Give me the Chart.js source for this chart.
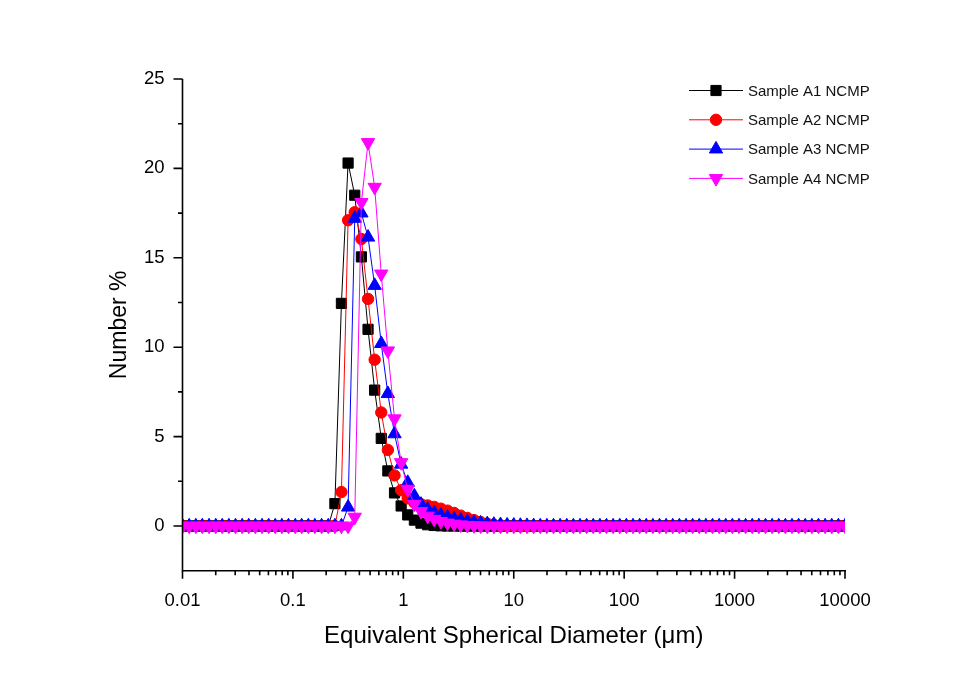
<!DOCTYPE html>
<html><head><meta charset="utf-8">
<script src="https://cdn.jsdelivr.net/npm/chart.js"></script>
<style>html,body{margin:0;padding:0;background:#fff}#wrap{width:973px;height:680px}</style>
</head><body><div id="wrap"><canvas id="c" width="973" height="680"></canvas></div>
<script>
// Equivalent spherical diameter bins (µm)
const sizes = [
0.0100,0.0115,0.0132,0.0151,0.0174,0.0200,0.0229,0.0263,0.0302,0.0347,
0.0398,0.0457,0.0525,0.0603,0.0692,0.0794,0.0912,0.105,0.120,0.138,
0.158,0.182,0.209,0.240,0.275,0.316,0.363,0.417,0.479,0.550,
0.631,0.724,0.832,0.955,1.096,1.259,1.445,1.660,1.905,2.188,
2.512,2.884,3.311,3.802,4.365,5.012,5.754,6.607,7.586,8.710,
10.00,11.48,13.18,15.14,17.38,19.95,22.91,26.30,30.20,34.67,
39.81,45.71,52.48,60.26,69.18,79.43,91.20,104.7,120.2,138.0,
158.5,182.0,208.9,239.9,275.4,316.2,363.1,416.9,478.6,549.5,
631.0,724.4,831.8,955.0,1096,1259,1445,1660,1905,2188,
2512,2884,3311,3802,4365,5012,5754,6607,7586,8710,
10000];

const seriesNames = ['Sample A1 NCMP','Sample A2 NCMP','Sample A3 NCMP','Sample A4 NCMP'];

const sampleA1 = [
0,0,0,0,0,0,0,0,0,0,
0,0,0,0,0,0,0,0,0,0,
0,0,0,1.25,12.45,20.3,18.5,15.05,11.0,7.6,
4.9,3.08,1.85,1.12,0.62,0.33,0.16,0.07,0.03,0.01,
0,0,0,0,0,0,0,0,0,0,
0,0,0,0,0,0,0,0,0,0,
0,0,0,0,0,0,0,0,0,0,
0,0,0,0,0,0,0,0,0,0,
0,0,0,0,0,0,0,0,0,0,
0,0,0,0,0,0,0,0,0,0,
0];
const sampleA2 = [
0,0,0,0,0,0,0,0,0,0,
0,0,0,0,0,0,0,0,0,0,
0,0,0,0,1.9,17.1,17.55,16.05,12.7,9.3,
6.35,4.25,2.83,2.0,1.55,1.3,1.22,1.15,1.07,0.97,
0.86,0.73,0.58,0.45,0.33,0.22,0.13,0.07,0.03,0.01,
0,0,0,0,0,0,0,0,0,0,
0,0,0,0,0,0,0,0,0,0,
0,0,0,0,0,0,0,0,0,0,
0,0,0,0,0,0,0,0,0,0,
0,0,0,0,0,0,0,0,0,0,
0];
const sampleA3 = [
0,0,0,0,0,0,0,0,0,0,
0,0,0,0,0,0,0,0,0,0,
0,0,0,0,0,1.05,17.2,17.5,16.15,13.45,
10.2,7.4,5.15,3.45,2.43,1.68,1.21,0.92,0.74,0.6,
0.49,0.4,0.32,0.26,0.2,0.16,0.12,0.09,0.07,0.05,
0.04,0.03,0.02,0.01,0,0,0,0,0,0,
0,0,0,0,0,0,0,0,0,0,
0,0,0,0,0,0,0,0,0,0,
0,0,0,0,0,0,0,0,0,0,
0,0,0,0,0,0,0,0,0,0,
0];
const sampleA4 = [
0,0,0,0,0,0,0,0,0,0,
0,0,0,0,0,0,0,0,0,0,
0,0,0,0,0,0,0.5,18.1,21.45,18.95,
14.1,9.8,6.0,3.55,2.06,1.22,0.82,0.56,0.38,0.26,
0.17,0.11,0.07,0.04,0.02,0.01,0,0,0,0,
0,0,0,0,0,0,0,0,0,0,
0,0,0,0,0,0,0,0,0,0,
0,0,0,0,0,0,0,0,0,0,
0,0,0,0,0,0,0,0,0,0,
0,0,0,0,0,0,0,0,0,0,
0];

const xTickValues = [0.01,0.1,1,10,100,1000,10000];
const xTickLabels = ['0.01','0.1','1','10','100','1000','10000'];
const xMinorMultipliers = [2,3,4,5,6,7,8,9];
const yTickValues = [0,5,10,15,20,25];
const yTickLabels = ['0','5','10','15','20','25'];
const yMinorValues = [2.5,7.5,12.5,17.5,22.5];

const FONT = "'Liberation Sans', Arial, Helvetica, sans-serif";
const colors = ['#000000','#ff0000','#0000ff','#ff00ff'];
const pStyles = ['rect','circle','triangle','triangle'];
const pRot = [0,0,0,180];
const pRad = [7.2,5.7,7.7,7.7];
const allSeries = [sampleA1,sampleA2,sampleA3,sampleA4];

const datasets = seriesNames.map((name,k)=>({
  label: name,
  data: sizes.map((s,i)=>({x:s, y:allSeries[k][i]})),
  borderColor: colors[k],
  backgroundColor: colors[k],
  borderWidth: 1,
  pointStyle: pStyles[k],
  pointRotation: pRot[k],
  pointRadius: pRad[k],
  pointBorderWidth: 1,
  pointBorderColor: colors[k],
  pointBackgroundColor: colors[k],
  tension: 0,
  order: 3-k
}));

function drawMarker(ctx, ds, x, y){
  if (Chart.helpers && Chart.helpers.drawPoint){
    Chart.helpers.drawPoint(ctx,{pointStyle:ds.pointStyle, radius:ds.pointRadius, rotation:ds.pointRotation, borderWidth:1}, x, y);
  }
}

const decoPlugin = {
  id: 'deco',
  afterDraw(chart){
    const {ctx, chartArea:a, scales:{x, y}} = chart;
    ctx.save();
    ctx.strokeStyle = '#000';
    ctx.lineWidth = 1.6;
    ctx.beginPath();
    ctx.moveTo(a.left, a.top); ctx.lineTo(a.left, a.bottom); ctx.lineTo(a.right+1, a.bottom);
    ctx.stroke();
    ctx.beginPath();
    xTickValues.forEach(v=>{ const px = x.getPixelForValue(v); ctx.moveTo(px, a.bottom); ctx.lineTo(px, a.bottom+8); });
    xTickValues.slice(0,-1).forEach(d=>{
      xMinorMultipliers.forEach(m=>{ const px = x.getPixelForValue(d*m); ctx.moveTo(px, a.bottom); ctx.lineTo(px, a.bottom+4.5); });
    });
    yTickValues.forEach(v=>{ const py = y.getPixelForValue(v); ctx.moveTo(a.left, py); ctx.lineTo(a.left-9, py); });
    yMinorValues.forEach(v=>{ const py = y.getPixelForValue(v); ctx.moveTo(a.left, py); ctx.lineTo(a.left-4.5, py); });
    ctx.stroke();

    // legend
    const lx0 = 689, lx1 = 743, lmx = 716, ltx = 748, ly0 = 90.5, ldy = 29.3;
    chart.data.datasets.forEach((ds,k)=>{
      const yy = ly0 + k*ldy;
      ctx.strokeStyle = ds.borderColor; ctx.lineWidth = 1;
      ctx.beginPath(); ctx.moveTo(lx0, yy); ctx.lineTo(lx1, yy); ctx.stroke();
      ctx.fillStyle = ds.backgroundColor; ctx.strokeStyle = ds.borderColor;
      drawMarker(ctx, ds, lmx, yy);
      ctx.fillStyle = '#111';
      ctx.font = '15px ' + FONT;
      ctx.textAlign = 'left'; ctx.textBaseline = 'middle';
      ctx.fillText(ds.label, ltx, yy+1);
    });
    ctx.restore();
  }
};

new Chart(document.getElementById('c'), {
  type: 'line',
  data: { datasets },
  plugins: [decoPlugin],
  options: {
    responsive: false,
    animation: false,
    devicePixelRatio: 1,
    layout: { padding: { left: 0, right: 128, top: 79, bottom: 0 } },
    plugins: { legend: { display: false }, tooltip: { enabled: false } },
    scales: {
      x: {
        type: 'logarithmic', min: 0.01, max: 10000, position: 'bottom',
        grid: { display: false, drawTicks: false },
        border: { display: false },
        afterBuildTicks: s => { s.ticks = xTickValues.map(v => ({ value: v, major: true })); },
        afterFit: s => { s.height = 680 - 570.7; },
        ticks: {
          autoSkip: false, maxRotation: 0, minRotation: 0, padding: 19, color: '#000',
          font: { family: FONT, size: 18.5 },
          callback: (v, i) => xTickLabels[i]
        },
        title: { display: true, text: 'Equivalent Spherical Diameter (μm)', color: '#000',
          font: { family: FONT, size: 24 }, padding: { top: 0, bottom: 29 } }
      },
      y: {
        type: 'linear', min: -2.5, max: 25, position: 'left',
        grid: { display: false, drawTicks: false },
        border: { display: false },
        afterBuildTicks: s => { s.ticks = yTickValues.map(v => ({ value: v })); },
        afterFit: s => { s.width = 182.5; },
        ticks: {
          autoSkip: false, padding: 18, color: '#000',
          font: { family: FONT, size: 18.5 },
          callback: (v, i) => yTickLabels[i]
        },
        title: { display: true, text: 'Number %', color: '#000',
          font: { family: FONT, size: 23 }, padding: { top: 106, bottom: 0 } }
      }
    }
  }
});
</script>
</body></html>
